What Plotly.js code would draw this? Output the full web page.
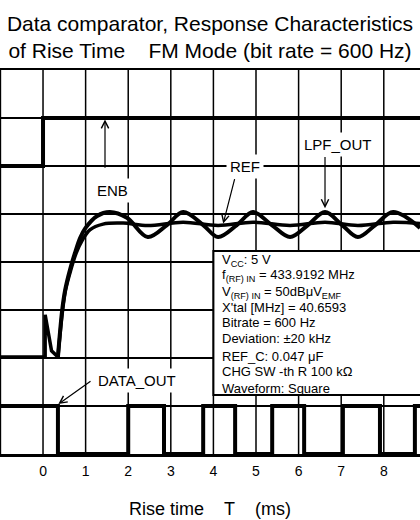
<!DOCTYPE html>
<html>
<head>
<meta charset="utf-8">
<script src="https://cdn.plot.ly/plotly-3.0.1.min.js"></script>
<style>html,body{margin:0;padding:0;background:#fff;overflow:hidden;}#chart{width:420px;height:520px;}</style>
</head>
<body>
<div id="chart"></div>
<script>
// ---- data (time in ms, level in grid divisions) ----
const xTickVals = [-1, 0, 1, 2, 3, 4, 5, 6, 7, 8];
const xTickText = ['', '0', '1', '2', '3', '4', '5', '6', '7', '8'];

const enbT = [-1.01, 0, 8.85];
const enbY = [6, 7, 7];

const dataOutT = [-1.01, 0.35, 2.0, 2.84, 3.76, 4.51, 5.38, 6.13, 7.04, 7.91, 8.73, 8.85];
const dataOutY = [1, 0, 1, 0, 1, 0, 1, 0, 1, 0, 1, 1];

// start of comparator input (baseline + spike at ENB edge)
const preT = [-1.01, 0.05, 0.05, 0.2, 0.35];
const preY = [2.02, 2.02, 2.9, 2.15, 2.02];

const lpfT = [0.35, 0.45, 0.52, 0.63, 0.75, 0.87, 0.99, 1.27, 1.57, 1.97, 2.46, 2.91, 3.29, 3.76, 4.11, 4.55, 4.93, 5.37, 5.80, 6.22, 6.62, 7.02, 7.39, 7.80, 8.22, 8.85];
const lpfY = [2.02, 3.0, 3.42, 3.83, 4.19, 4.5, 4.7, 4.96, 5.04, 4.92, 4.52, 4.77, 5.04, 4.77, 4.52, 4.77, 5.04, 4.77, 4.52, 4.77, 5.04, 4.77, 4.52, 4.77, 5.04, 4.71];

const refT = [0.35, 0.46, 0.53, 0.65, 0.78, 0.92, 1.10, 1.41, 1.88, 2.46, 3.29, 4.11, 4.93, 5.80, 6.62, 7.39, 8.22, 8.85];
const refY = [2.02, 3.0, 3.42, 3.83, 4.19, 4.45, 4.67, 4.79, 4.81, 4.76, 4.83, 4.76, 4.83, 4.76, 4.83, 4.76, 4.83, 4.80];

const infoLines = [
  'V<sub>CC</sub>: 5 V',
  'f<sub>(RF) IN</sub> = 433.9192 MHz',
  'V<sub>(RF) IN</sub> = 50dBμV<sub>EMF</sub>',
  'X\'tal [MHz] = 40.6593',
  'Bitrate = 600 Hz',
  'Deviation: ±20 kHz',
  'REF_C: 0.047 μF',
  'CHG SW -th R 100 kΩ',
  'Waveform: Square'
];

const FONT = 'Arial, "Liberation Sans", sans-serif';

const traces = [
  {x: enbT, y: enbY, mode: 'lines', line: {color: '#000', width: 4, shape: 'hv'}, name: 'ENB', hoverinfo: 'skip'},
  {x: dataOutT, y: dataOutY, mode: 'lines', line: {color: '#000', width: 4, shape: 'hv'}, name: 'DATA_OUT', hoverinfo: 'skip'},
  {x: preT, y: preY, mode: 'lines', line: {color: '#000', width: 3.5}, name: 'start', hoverinfo: 'skip'},
  {x: refT, y: refY, mode: 'lines', line: {color: '#000', width: 3.5, shape: 'spline', smoothing: 1}, name: 'REF', hoverinfo: 'skip'},
  {x: lpfT, y: lpfY, mode: 'lines', line: {color: '#000', width: 4, shape: 'spline', smoothing: 1}, name: 'LPF_OUT', hoverinfo: 'skip'}
];

const ann = [];
function label(text, x, y) {
  ann.push({text: text, x: x, y: y, xref: 'x', yref: 'y', showarrow: false,
    font: {family: FONT, size: 15, color: '#000'}, bgcolor: '#fff', borderpad: 3});
}
function arrow(tx, ty, hx, hy) {
  ann.push({text: ' ', x: hx, y: hy, ax: tx, ay: ty, xref: 'x', yref: 'y', axref: 'x', ayref: 'y',
    showarrow: true, arrowhead: 5, arrowsize: 1.2, arrowwidth: 1.2, arrowcolor: '#000',
    font: {size: 1}});
}
label('ENB', 1.62, 5.5);
label('REF', 4.74, 6.0);
label('LPF_OUT', 6.92, 6.45);
label('DATA_OUT', 2.2, 1.54);
arrow(1.455, 5.92, 1.455, 6.97);
arrow(4.51, 5.77, 4.23, 4.8);
arrow(6.62, 6.23, 6.62, 5.12);
arrow(1.15, 1.54, 0.36, 1.04);

const infoY = [4.04, 3.71, 3.375, 3.06, 2.73, 2.40, 2.04, 1.71, 1.375];
infoLines.forEach((t, i) => {
  ann.push({text: t, x: 4.17, y: infoY[i], xref: 'x', yref: 'y', xanchor: 'left', yanchor: 'middle',
    showarrow: false, align: 'left', font: {family: FONT, size: 13, color: '#000'}, borderpad: 0});
});

// vertical grid lines, one per x tick, confined to the plot frame
const gridShapes = xTickVals.map(v => ({type: 'line', xref: 'x', yref: 'paper', x0: v, x1: v, y0: 0, y1: 1,
  line: {color: '#000', width: 1.5}, layer: 'below'}));

const layout = {
  width: 420, height: 520,
  margin: {l: 0, r: 0, t: 70, b: 66, pad: 0},
  paper_bgcolor: '#fff', plot_bgcolor: 'rgba(0,0,0,0)',
  showlegend: false,
  font: {family: FONT, color: '#000'},
  title: {text: 'Data comparator, Response Characteristics<br>of Rise Time\u00a0\u00a0\u00a0\u00a0FM Mode (bit rate = 600 Hz)',
    font: {family: FONT, size: 21, color: '#000'}, x: 0.5, xanchor: 'center', xref: 'paper',
    y: 1 - 31 / 520, yref: 'container', yanchor: 'top'},
  xaxis: {range: [-1.01, 8.85], tickmode: 'array', tickvals: xTickVals, ticktext: xTickText,
    showgrid: false, zeroline: false,
    showline: true, linecolor: '#000', linewidth: 2.5, mirror: true,
    ticks: 'outside', ticklen: 3, tickcolor: 'rgba(0,0,0,0)',
    tickfont: {family: FONT, size: 14, color: '#000'},
    title: {text: 'Rise time\u00a0\u00a0\u00a0\u00a0T\u00a0\u00a0\u00a0\u00a0(ms)', font: {family: FONT, size: 18, color: '#000'}, standoff: 24},
    fixedrange: true},
  yaxis: {range: [0, 8], dtick: 1, tick0: 0, showticklabels: false,
    showgrid: true, gridcolor: '#000', gridwidth: 1.5, zeroline: false,
    showline: true, linecolor: '#000', linewidth: 2.5, mirror: true, fixedrange: true},
  shapes: gridShapes.concat([
    {type: 'rect', xref: 'x', yref: 'y', x0: 4.0, x1: 9.5, y0: 1.23, y1: 4.23,
      fillcolor: '#fff', line: {color: '#000', width: 2}, layer: 'above'}
  ]),
  annotations: ann
};

Plotly.newPlot('chart', traces, layout, {staticPlot: true, displayModeBar: false});
</script>
</body>
</html>
